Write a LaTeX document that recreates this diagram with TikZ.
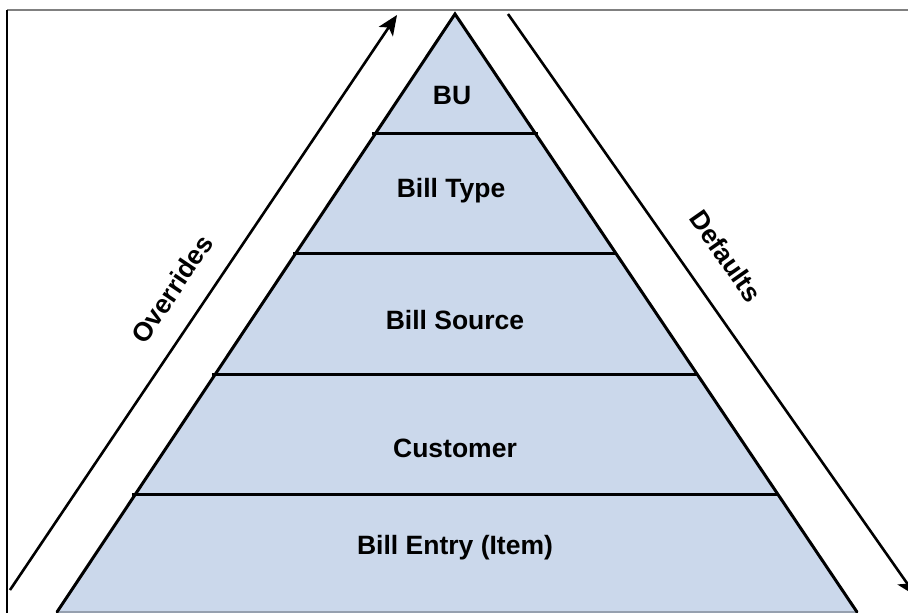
\documentclass[tikz,border=0pt]{standalone}
\usepackage{fontspec}
\setmainfont{Liberation Sans}
\usetikzlibrary{arrows.meta}
\definecolor{pyrfill}{RGB}{203,216,235}
\definecolor{framegray}{RGB}{128,128,128}
\definecolor{basegray}{RGB}{150,160,175}
\begin{document}
\begin{tikzpicture}[x=1pt,y=-1pt,
  edge/.style={line width=3pt,black,line cap=round},
  divider/.style={line width=3pt,black},
  levellabel/.style={font=\fontsize{26.5}{30}\selectfont\bfseries,inner sep=0pt},
  sidelabel/.style={font=\fontsize{26.5}{30}\selectfont\bfseries,inner sep=0pt},
  flow/.style={line width=2.6pt,black,-{Stealth[length=20pt,width=17pt,inset=5pt]}}]
\useasboundingbox (0,0) rectangle (908,613);
\clip (0,0) rectangle (908,613);
% frame
\draw[framegray,line width=2pt] (7,10) -- (908,10);
\draw[black,line width=2pt] (7,10) -- (7,613);
% pyramid
\coordinate (apex) at (455,14);
\coordinate (bl) at (57,612);
\coordinate (br) at (857,612);
\fill[pyrfill] (apex) -- (bl) -- (br) -- cycle;
\draw[basegray,line width=2.5pt] (bl) -- (br);
\draw[edge] (bl) -- (apex) -- (br);
% dividers
\coordinate (d1l) at (372,133); \coordinate (d1r) at (538,133);
\coordinate (d2l) at (293,253); \coordinate (d2r) at (615,253);
\coordinate (d3l) at (212,374); \coordinate (d3r) at (697,374);
\coordinate (d4l) at (132,494); \coordinate (d4r) at (779,494);
\draw[divider] (d1l) -- (d1r);
\draw[divider] (d2l) -- (d2r);
\draw[divider] (d3l) -- (d3r);
\draw[divider] (d4l) -- (d4r);
% level labels
\node[levellabel] (bu) at (452,96) {BU};
\node[levellabel] (billtype) at (451,191) {Bill Type};
\node[levellabel] (billsource) at (455,320) {Bill Source};
\node[levellabel] (customer) at (455,448) {Customer};
\node[levellabel] (billentry) at (455,548) {Bill Entry (Item)};
% arrows
\coordinate (ovs) at (10,590);
\coordinate (ove) at (397,15);
\draw[flow] (ovs) -- (ove);
\coordinate (dfs) at (508,14);
\coordinate (dfe) at (916,596);
\draw[flow] (dfs) -- (dfe);
\node[sidelabel,rotate=56] (overrides) at (172,289) {Overrides};
\node[sidelabel,rotate=-55] (defaults) at (726,256) {Defaults};
\end{tikzpicture}
\end{document}
